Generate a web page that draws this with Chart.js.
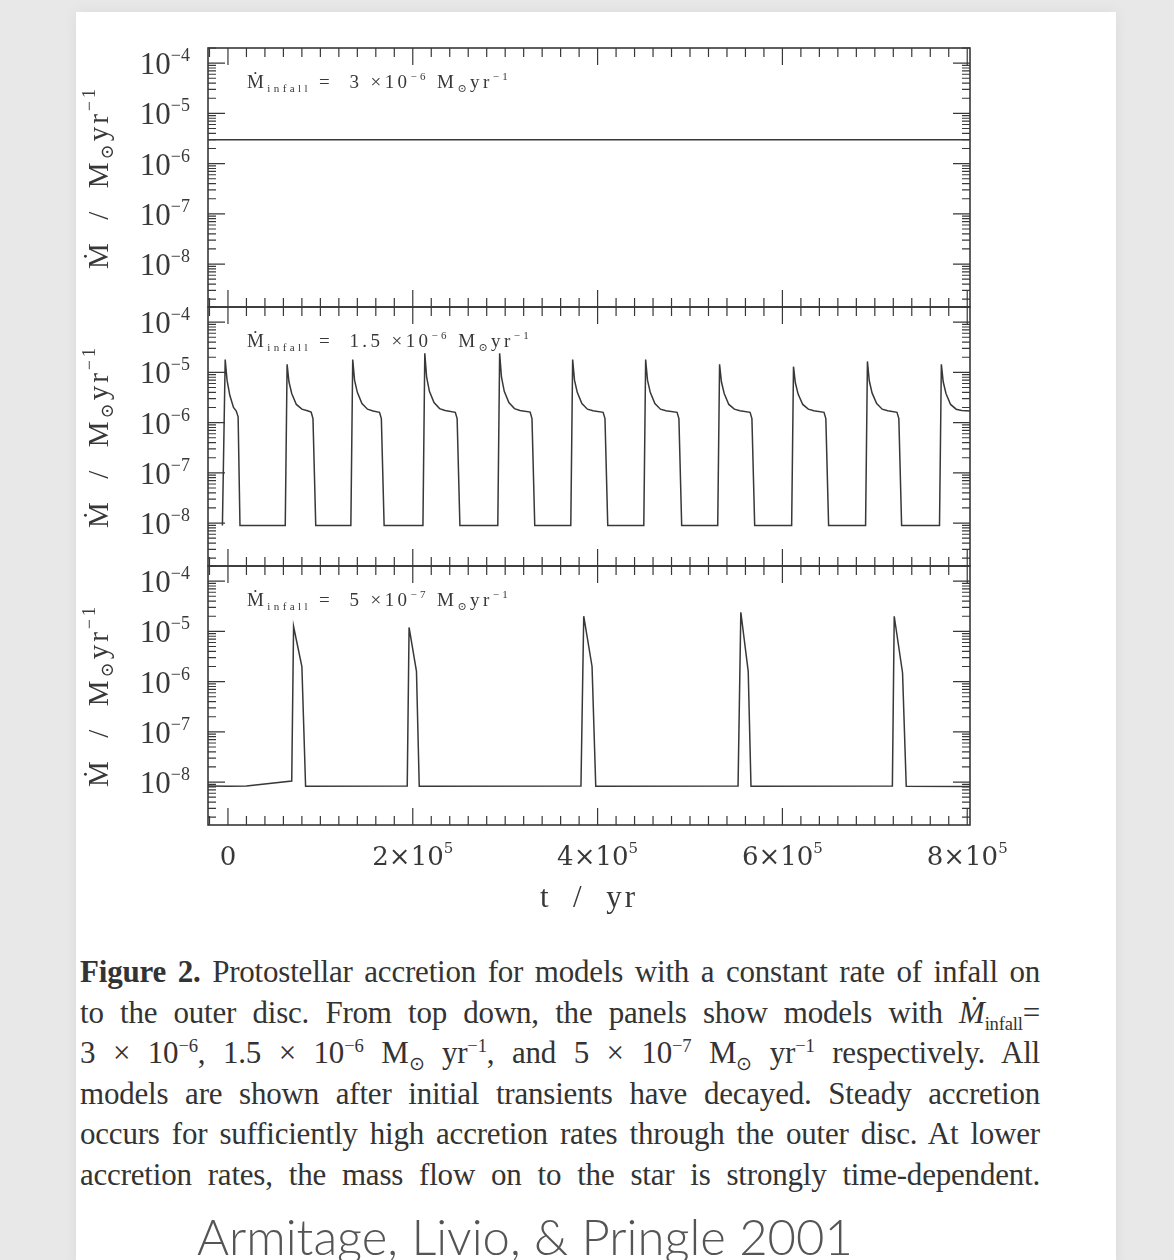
<!DOCTYPE html>
<html>
<head>
<meta charset="utf-8">
<script src="https://cdn.jsdelivr.net/npm/chart.js@4.4.0/dist/chart.umd.min.js"></script>
<style>
body { margin:0; width:1174px; height:1260px; background:#e8e8e8; position:relative; overflow:hidden; }
.card { position:absolute; left:76px; top:12px; width:1040px; height:1260px; background:#fff; box-shadow:0 0 14px rgba(0,0,0,0.06); }
canvas { position:absolute; left:0; top:0; }
.caption { position:absolute; left:80px; top:952px; width:960px; font-family:"Liberation Serif", serif; font-size:31px; letter-spacing:-0.2px; color:#333; }
.caption div { height:40.5px; line-height:40.5px; text-align:justify; text-align-last:justify; white-space:nowrap; }
.caption sup, .caption sub { font-size:0.6em; line-height:0; }
.cite { position:absolute; left:197px; top:1207px; font-family:Lato, sans-serif; font-weight:300; font-size:49px; color:#555; white-space:nowrap; }
</style>
</head>
<body>
<div class="card"></div>
<canvas id="p1" width="1174" height="930"></canvas>
<canvas id="p2" width="1174" height="930"></canvas>
<canvas id="p3" width="1174" height="930"></canvas>
<div class="caption">
<div><b>Figure 2.</b> Protostellar accretion for models with a constant rate of infall on</div>
<div>to the outer disc. From top down, the panels show models with <i>Ṁ</i><sub>infall</sub>=</div>
<div>3 × 10<sup>−6</sup>, 1.5 × 10<sup>−6</sup> M<sub>⊙</sub> yr<sup>−1</sup>, and 5 × 10<sup>−7</sup> M<sub>⊙</sub> yr<sup>−1</sup> respectively. All</div>
<div>models are shown after initial transients have decayed. Steady accretion</div>
<div>occurs for sufficiently high accretion rates through the outer disc. At lower</div>
<div>accretion rates, the mass flow on to the star is strongly time-dependent.</div>
</div>
<div class="cite">Armitage, Livio, &amp; Pringle 2001</div>
<script>
// ---- data (t in yr, Mdot in Msun/yr) ----
const tRange = [-21600, 803000];
const mdotRange = [1.4e-9, 2.0e-4];

const yDecades = [1e-4, 1e-5, 1e-6, 1e-7, 1e-8];
const yDecadeExp = ['−4', '−5', '−6', '−7', '−8'];
const xTickVals = [0, 2e5, 4e5, 6e5, 8e5];
const xTickBase = ['0', '2×10', '4×10', '6×10', '8×10'];
const xTickExp = ['', '5', '5', '5', '5'];

const infallValue = ['3', '1.5', '5'];
const infallExp = ['−6', '−6', '−7'];

// top panel: steady accretion
const topT = [-21600, 803000];
const topMdot = [3e-6, 3e-6];

// middle panel: regular outbursts
const midT = [
    -6000, -3000, -1000, 2000, 6000, 9000, 11000, 13000,
    62000, 64000, 66000, 69000, 74000, 80000, 86000, 90000, 92000, 95000,
    133000, 135000, 137000, 140000, 145000, 151000, 157000, 164000, 166000, 169000,
    211000, 213000, 215000, 218000, 223000, 229000, 235000, 246000, 248000, 251000,
    292000, 294000, 296000, 299000, 304000, 310000, 316000, 327000, 329000, 332000,
    371000, 373000, 375000, 378000, 383000, 389000, 395000, 406000, 408000, 411000,
    450000, 452000, 454000, 457000, 462000, 468000, 474000, 486000, 488000, 491000,
    530000, 532000, 534000, 537000, 542000, 548000, 554000, 565000, 567000, 570000,
    610000, 612000, 614000, 617000, 622000, 628000, 634000, 645000, 647000, 650000,
    690000, 692000, 694000, 697000, 702000, 708000, 714000, 724000, 726000, 729000,
    770000, 772000, 774000, 777000, 782000, 788000, 794000, 803000
];
const midMdot = [
    9e-9, 1.8e-5, 7e-6, 3.5e-6, 2.0e-6, 1.7e-6, 1.3e-6, 9e-9,
    9e-9, 1.45e-5, 6.5e-6, 3.8e-6, 2.3e-6, 1.85e-6, 1.72e-6, 1.62e-6, 1.2e-6, 9e-9,
    9e-9, 1.8e-5, 7e-6, 4e-6, 2.4e-6, 1.85e-6, 1.7e-6, 1.6e-6, 1.2e-6, 9e-9,
    9e-9, 2.4e-5, 8e-6, 4.2e-6, 2.5e-6, 1.9e-6, 1.75e-6, 1.6e-6, 1.2e-6, 9e-9,
    9e-9, 2.4e-5, 8e-6, 4.2e-6, 2.5e-6, 1.9e-6, 1.75e-6, 1.62e-6, 1.2e-6, 9e-9,
    9e-9, 1.8e-5, 7e-6, 4e-6, 2.4e-6, 1.85e-6, 1.72e-6, 1.6e-6, 1.2e-6, 9e-9,
    9e-9, 1.8e-5, 7e-6, 4e-6, 2.4e-6, 1.85e-6, 1.72e-6, 1.6e-6, 1.2e-6, 9e-9,
    9e-9, 1.45e-5, 6.5e-6, 3.8e-6, 2.3e-6, 1.85e-6, 1.72e-6, 1.6e-6, 1.2e-6, 9e-9,
    9e-9, 1.3e-5, 6.2e-6, 3.7e-6, 2.3e-6, 1.85e-6, 1.72e-6, 1.6e-6, 1.2e-6, 9e-9,
    9e-9, 1.65e-5, 6.8e-6, 3.9e-6, 2.4e-6, 1.85e-6, 1.72e-6, 1.6e-6, 1.2e-6, 9e-9,
    9e-9, 1.45e-5, 6.5e-6, 3.8e-6, 2.3e-6, 1.85e-6, 1.75e-6, 1.7e-6
];

// bottom panel: rare outbursts
const lowT = [
    -21600, 0, 20000, 69000, 71000, 80000, 84000,
    194000, 196000, 204000, 207000,
    382000, 385000, 394000, 398000,
    552000, 555000, 563000, 566000,
    719000, 721000, 730000, 734000, 803000
];
const lowMdot = [
    8.4e-9, 8.3e-9, 8.4e-9, 1.05e-8, 1.25e-5, 2.0e-6, 8.3e-9,
    8.4e-9, 1.2e-5, 1.6e-6, 8.3e-9,
    8.4e-9, 2.0e-5, 2.0e-6, 8.3e-9,
    8.4e-9, 2.4e-5, 1.6e-6, 8.3e-9,
    8.4e-9, 2.0e-5, 1.5e-6, 8.3e-9, 8.2e-9
];

// ---- layout ----
const frameLeft = 208, frameRight = 970;
const panelTops = [48, 307, 566];
const panelH = 259;
const canvasH = 930;
const ink = '#383838';
const serif = '"Liberation Serif", "DejaVu Serif", serif';

// draw a run of text pieces (sub/superscripts) starting at x, baseline y
function drawRich(ctx, x, y, parts, measureOnly) {
    let cx = x;
    parts.forEach(p => {
        ctx.font = p.size + 'px ' + (p.family || serif);
        if (!measureOnly) ctx.fillText(p.t, cx, y + (p.dy || 0));
        cx += ctx.measureText(p.t).width;
    });
    return cx - x;
}

const panelFrame = {
    id: 'panelFrame',
    afterDraw(chart, args, opts) {
        const ctx = chart.ctx;
        const xs = chart.scales.x, ys = chart.scales.y;
        const {left, right, top, bottom} = chart.chartArea;
        ctx.save();
        ctx.strokeStyle = ink;
        ctx.fillStyle = ink;

        // x ticks (top and bottom edges)
        ctx.lineWidth = 1.2;
        ctx.beginPath();
        for (let v = -20000; v <= 800000; v += 20000) {
            const px = xs.getPixelForValue(v);
            if (px < left + 1 || px > right - 1) continue;
            const len = v % 200000 === 0 ? 17 : 9;
            ctx.moveTo(px, bottom); ctx.lineTo(px, bottom - len);
            ctx.moveTo(px, top); ctx.lineTo(px, top + len);
        }
        // y ticks (left and right edges), log
        for (let d = -9; d <= -4; d++) {
            for (let m = 1; m <= 9; m++) {
                const v = m * Math.pow(10, d);
                if (v < ys.min || v > ys.max) continue;
                const py = ys.getPixelForValue(v);
                const len = m === 1 ? 17 : 8;
                ctx.moveTo(left, py); ctx.lineTo(left + len, py);
                ctx.moveTo(right, py); ctx.lineTo(right - len, py);
            }
        }
        ctx.stroke();

        // frame
        ctx.lineWidth = 1.6;
        ctx.strokeRect(left, top, right - left, bottom - top);

        // y tick labels
        ctx.textBaseline = 'alphabetic';
        yDecades.forEach((v, i) => {
            const py = ys.getPixelForValue(v);
            const parts = [{t: '10', size: 31}, {t: yDecadeExp[i], size: 18, dy: -13}];
            const w = drawRich(ctx, 0, 0, parts, true);
            drawRich(ctx, 190 - w, py + 11, parts);
        });

        // infall label
        ctx.letterSpacing = '3.4px';
        drawRich(ctx, 247, top + 40, [
            {t: 'Ṁ', size: 19},
            {t: 'infall', size: 11, dy: 4},
            {t: ' =  ' + opts.value + ' ×10', size: 19},
            {t: opts.exp, size: 11, dy: -8},
            {t: ' M', size: 19},
            {t: '⊙', size: 11, dy: 4},
            {t: 'yr', size: 19},
            {t: '−1', size: 11, dy: -8}
        ]);

        // y title (rotated)
        ctx.letterSpacing = '3px';
        const title = [
            {t: 'Ṁ  /  M', size: 29},
            {t: '⊙', size: 18, dy: 5},
            {t: 'yr', size: 29},
            {t: '−1', size: 18, dy: -13}
        ];
        const tw = drawRich(ctx, 0, 0, title, true);
        ctx.save();
        ctx.translate(108, (top + bottom) / 2);
        ctx.rotate(-Math.PI / 2);
        drawRich(ctx, -tw / 2, 0, title);
        ctx.restore();
        ctx.letterSpacing = '0px';

        // x tick labels + title on the bottom panel
        if (opts.xAxis) {
            xTickVals.forEach((v, i) => {
                const px = xs.getPixelForValue(v);
                const parts = [{t: xTickBase[i], size: 26, family: '"DejaVu Serif", serif'}];
                if (xTickExp[i]) parts.push({t: xTickExp[i], size: 15, dy: -12, family: '"DejaVu Serif", serif'});
                const w = drawRich(ctx, 0, 0, parts, true);
                drawRich(ctx, px - w / 2, bottom + 40, parts);
            });
            ctx.letterSpacing = '3px';
            ctx.font = '31px ' + serif;
            ctx.textAlign = 'center';
            ctx.fillText('t  /  yr', (left + right) / 2, bottom + 82);
            ctx.letterSpacing = '0px';
        }
        ctx.restore();
    }
};

function makePanel(id, i, ts, mdots, xAxis) {
    const top = panelTops[i];
    return new Chart(document.getElementById(id), {
        type: 'line',
        data: {
            datasets: [{
                data: ts.map((t, k) => ({x: t, y: mdots[k]})),
                borderColor: ink,
                borderWidth: 1.5,
                pointRadius: 0,
                tension: 0,
                fill: false
            }]
        },
        options: {
            responsive: false,
            animation: false,
            devicePixelRatio: 1,
            layout: {
                padding: {left: frameLeft, right: 1174 - frameRight, top: top, bottom: canvasH - top - panelH}
            },
            plugins: {
                legend: {display: false},
                tooltip: {enabled: false},
                panelFrame: {value: infallValue[i], exp: infallExp[i], xAxis: xAxis}
            },
            scales: {
                x: {type: 'linear', min: tRange[0], max: tRange[1], display: false},
                y: {type: 'logarithmic', min: mdotRange[0], max: mdotRange[1], display: false}
            }
        },
        plugins: [panelFrame]
    });
}

makePanel('p1', 0, topT, topMdot, false);
makePanel('p2', 1, midT, midMdot, false);
makePanel('p3', 2, lowT, lowMdot, true);
</script>
</body>
</html>
